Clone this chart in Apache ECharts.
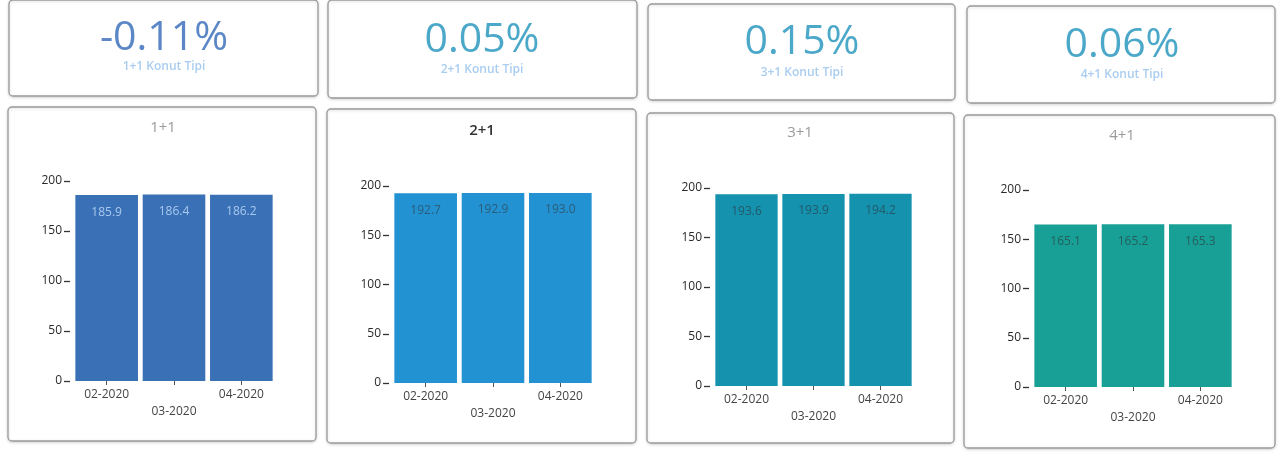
<!DOCTYPE html>
<html>
<head>
<meta charset="utf-8">
<script src="https://cdn.jsdelivr.net/npm/echarts@6/dist/echarts.min.js"></script>
<style>
html,body{margin:0;padding:0;background:#fff;}
#main{width:1286px;height:453px;}
</style>
</head>
<body>
<div id="main"></div>
<script>
// ---- data ----
const categories = ['02-2020', '03-2020', '04-2020'];
const values1p1 = [185.9, 186.4, 186.2];
const values2p1 = [192.7, 192.9, 193.0];
const values3p1 = [193.6, 193.9, 194.2];
const values4p1 = [165.1, 165.2, 165.3];
const chartTitles = ['1+1', '2+1', '3+1', '4+1'];
const kpiValues = ['-0.11%', '0.05%', '0.15%', '0.06%'];
const kpiLabels = ['1+1 Konut Tipi', '2+1 Konut Tipi', '3+1 Konut Tipi', '4+1 Konut Tipi'];
const yMin = 0, yMax = 200, yInterval = 50;

// ---- layout / style ----
const seriesValues = [values1p1, values2p1, values3p1, values4p1];
const barColors = ['#3a71b6', '#2292d2', '#1592ae', '#18a096'];
const labelColors = ['#a8c8ee', '#2d5c78', '#24596a', '#245f5c'];
const titleStyles = [
  {color: '#9a9a9a', fontWeight: 'normal'},
  {color: '#333333', fontWeight: 600},
  {color: '#9a9a9a', fontWeight: 'normal'},
  {color: '#9a9a9a', fontWeight: 'normal'}
];
const kpiColors = ['#5b87c6', '#4ba8c9', '#4ba8c9', '#4ba8c9'];
const kpiBoxes = [[9, 0, 309, 96], [328, 0, 309, 98], [648, 4, 307, 96], [967, 6, 308, 97]];
const kpiText = [[164, 38, 67], [482, 40, 70], [802, 42, 73], [1122, 45, 75]];
const chartBoxes = [[8, 107, 308, 334], [327, 109, 309, 334], [647, 113, 307, 330], [964, 115, 311, 333]];
const titlePos = [[163, 128], [482, 131], [800, 133], [1122, 136]];
const grids = [
  {left: 73, top: 181, width: 202, height: 200},
  {left: 392, top: 186, width: 202, height: 197},
  {left: 713, top: 188, width: 201, height: 198},
  {left: 1032, top: 190, width: 202, height: 197}
];
const FONT = '"Open Sans", "Noto Sans", sans-serif';

const graphic = [];
kpiBoxes.forEach((b, i) => {
  graphic.push({type: 'rect', shape: {x: b[0], y: b[1], width: b[2], height: b[3], r: 4},
    style: {fill: '#fff', stroke: '#9a9a9a', lineWidth: 1.3, shadowBlur: 3, shadowColor: 'rgba(0,0,0,0.15)', shadowOffsetY: 1}, z: 0});
  graphic.push({type: 'text', x: kpiText[i][0], y: kpiText[i][1], z: 2,
    style: {text: kpiValues[i], fill: kpiColors[i], font: '41px ' + FONT, textAlign: 'center', textVerticalAlign: 'middle'}});
  graphic.push({type: 'text', x: kpiText[i][0], y: kpiText[i][2], z: 2,
    style: {text: kpiLabels[i], fill: '#a9cdf0', font: '600 12px ' + FONT, textAlign: 'center', textVerticalAlign: 'middle'}});
});
chartBoxes.forEach((b, i) => {
  graphic.push({type: 'rect', shape: {x: b[0], y: b[1], width: b[2], height: b[3], r: 4},
    style: {fill: '#fff', stroke: '#9a9a9a', lineWidth: 1.3, shadowBlur: 3, shadowColor: 'rgba(0,0,0,0.15)', shadowOffsetY: 1}, z: 0});
  graphic.push({type: 'text', x: titlePos[i][0], y: titlePos[i][1], z: 2,
    style: {text: chartTitles[i], fill: titleStyles[i].color,
      font: (titleStyles[i].fontWeight === 'normal' ? '' : '600 ') + '15px ' + FONT,
      textAlign: 'center', textVerticalAlign: 'middle'}});
});

const xAxis = [], yAxis = [], series = [];
grids.forEach((g, i) => {
  xAxis.push({
    type: 'category', gridIndex: i, data: categories,
    axisLine: {show: false},
    axisTick: {show: true, alignWithLabel: true, length: 4, lineStyle: {color: '#555'}},
    axisLabel: {color: '#444', fontSize: 12, fontFamily: FONT, margin: 5, interval: 0,
      formatter: (v, idx) => idx === 1 ? '\n' + v : v, lineHeight: 17}
  });
  yAxis.push({
    type: 'value', gridIndex: i, min: yMin, max: yMax, interval: yInterval,
    offset: 3,
    axisLine: {show: false},
    axisTick: {show: true, length: 6, lineStyle: {color: '#333', width: 1.3}},
    splitLine: {show: false},
    axisLabel: {color: '#2a2a2a', fontSize: 12, fontFamily: FONT, margin: 8}
  });
  series.push({
    type: 'bar', xAxisIndex: i, yAxisIndex: i, data: seriesValues[i],
    barCategoryGap: '7%',
    itemStyle: {color: barColors[i]},
    label: {show: true, position: 'insideTop', distance: 11, color: labelColors[i],
      fontSize: 12, fontFamily: FONT, formatter: p => p.value.toFixed(1)},
    silent: true
  });
});

const chart = echarts.init(document.getElementById('main'));
chart.setOption({
  animation: false,
  backgroundColor: '#ffffff',
  graphic: graphic,
  grid: grids,
  xAxis: xAxis,
  yAxis: yAxis,
  series: series
});
</script>
</body>
</html>
